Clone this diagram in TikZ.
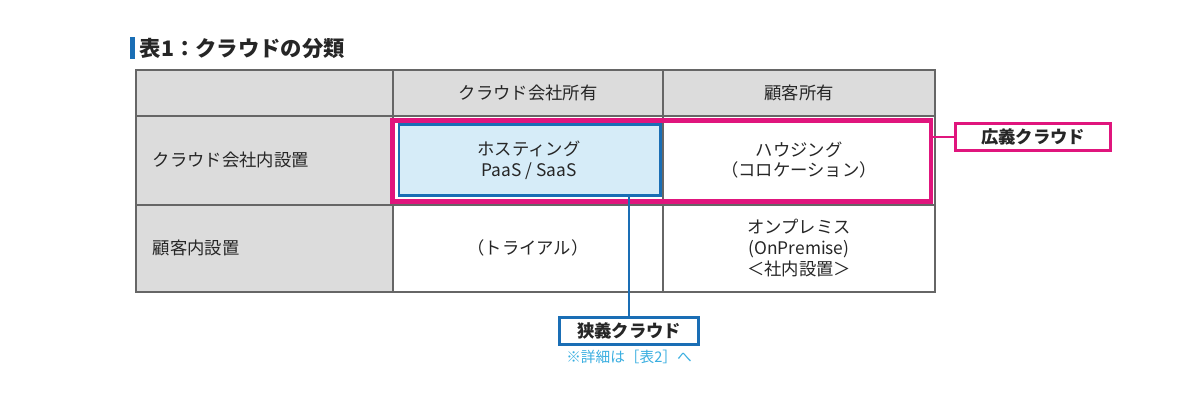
\documentclass[tikz,border=0pt]{standalone}
\usepackage{fontspec}
\setmainfont{Noto Sans CJK JP}
\usetikzlibrary{positioning}
\definecolor{cellgray}{HTML}{DCDCDC}
\definecolor{wideline}{HTML}{E0157D}
\definecolor{narrowline}{HTML}{1A6EB5}
\definecolor{narrowfill}{HTML}{D6ECF8}
\definecolor{notecol}{HTML}{3AAEE0}
\tikzset{
  cell/.style={draw=black!60, line width=0.9pt},
  txt/.style={font=\fontsize{13}{15.5}\selectfont, align=center, text=black!85},
  tag/.style={draw, fill=white, line width=1.8pt, font=\fontsize{13}{15}\selectfont\bfseries, inner sep=4pt, text=black!85}
}
\begin{document}
\begin{tikzpicture}[x=0.75pt, y=-0.75pt]
  \useasboundingbox (0,0) rectangle (1200,400);
  % Title
  \fill[narrowline] (130,37) rectangle (135,59);
  \node (title) [anchor=west, font=\fontsize{16}{18}\selectfont\bfseries, text=black!85] at (135,48) {表1：クラウドの分類};
  % Cells
  \fill[cellgray] (136,70) rectangle (935,116);
  \fill[cellgray] (136,116) rectangle (393,292);
  \draw[cell] (136,70) rectangle (935,292);
  \draw[cell] (136,116) -- (935,116);
  \draw[cell] (136,205) -- (935,205);
  \draw[cell] (393,70) -- (393,292);
  \draw[cell] (663,70) -- (663,292);
  % Highlights
  \node (wide) [draw=wideline, line width=3.5pt, minimum width=404pt, minimum height=61pt, inner sep=0pt] at (661.5,161) {};
  \node (narrow) [draw=narrowline, fill=narrowfill, line width=2pt, minimum width=196pt, minimum height=53pt, inner sep=0pt] at (529.5,160) {};
  % Texts
  \node (h1) [txt] at (528,93) {クラウド会社所有};
  \node (h2) [txt] at (799,93) {顧客所有};
  \node (r1) [txt, anchor=west] at (148,160) {クラウド会社内設置};
  \node (r2) [txt, anchor=west] at (148,248) {顧客内設置};
  \node (hosting) [txt] at (529,160) {ホスティング\\PaaS / SaaS};
  \node (housing) [txt] at (799,160) {ハウジング\\（コロケーション）};
  \node (trial) [txt] at (528,248) {（トライアル）};
  \node (onprem) [txt] at (799,248) {オンプレミス\\(OnPremise)\\＜社内設置＞};
  % Labels
  \node (widetag) [tag, draw=wideline, minimum width=116pt] at (1033,137) {広義クラウド};
  \node (narrowtag) [tag, draw=narrowline, minimum width=104pt] at (629,331) {狭義クラウド};
  \node (note) [font=\fontsize{11}{13}\selectfont, text=notecol, below=0pt of narrowtag] {※詳細は［表2］へ};
  % Connectors
  \draw[wideline, line width=2pt] (wide.east |- widetag.west) -- (widetag.west);
  \draw[narrowline, line width=2pt] (narrow.south -| narrowtag.north) -- (narrowtag.north);
\end{tikzpicture}
\end{document}
